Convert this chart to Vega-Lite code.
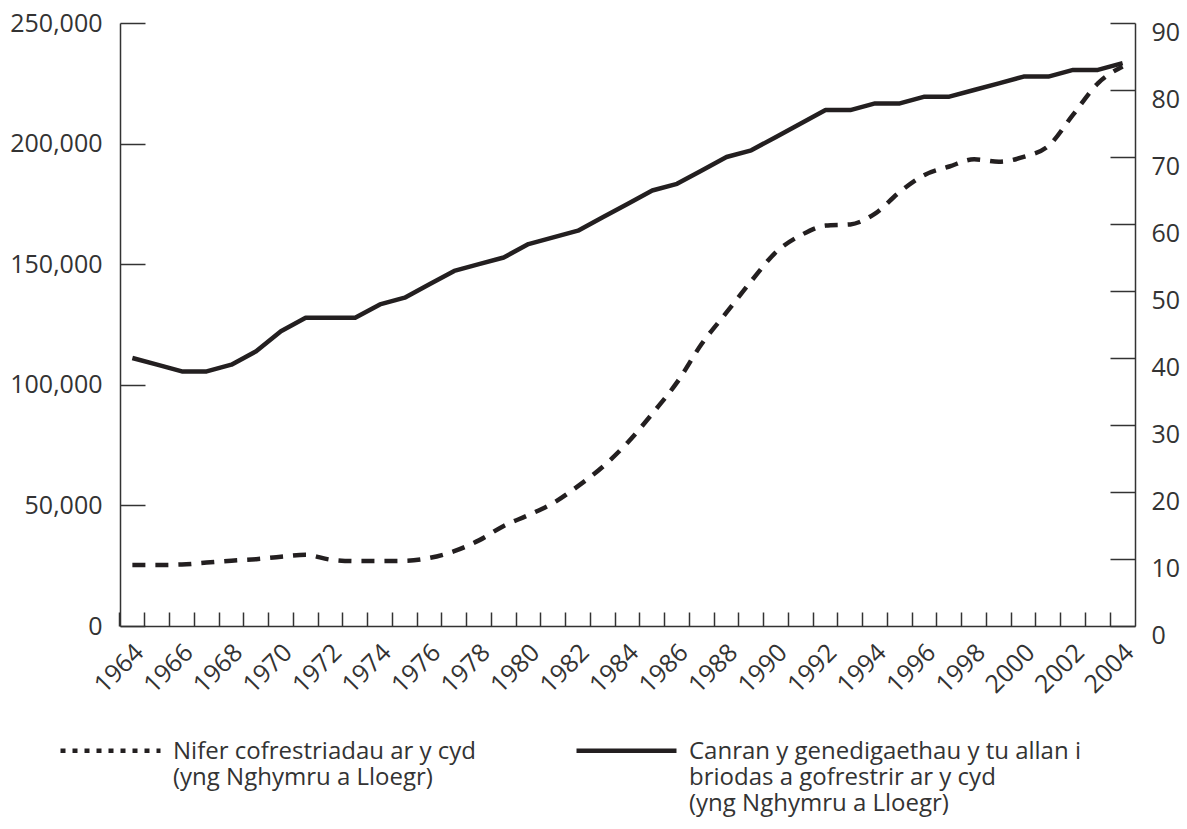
{
  "$schema": "https://vega.github.io/schema/vega-lite/v6.json",
  "width": 1015,
  "height": 603,
  "autosize": {"type": "none"},
  "padding": {"left": 120, "top": 23, "right": 52, "bottom": 203},
  "background": "white",
  "config": {
    "font": "Open Sans",
    "view": {"stroke": null},
    "axis": {
      "labelFont": "Open Sans",
      "labelFontSize": 25,
      "labelColor": "#333333",
      "domainColor": "#333333",
      "tickColor": "#333333",
      "domainWidth": 1.5,
      "tickWidth": 1.5,
      "grid": false,
      "title": null
    }
  },
  "data": {
    "values": [
      {"year": 1964, "count": 25300, "pct": 40},
      {"year": 1965, "count": 25300, "pct": 39},
      {"year": 1966, "count": 25500, "pct": 38},
      {"year": 1967, "count": 26300, "pct": 38},
      {"year": 1968, "count": 27100, "pct": 39},
      {"year": 1969, "count": 27700, "pct": 41},
      {"year": 1970, "count": 28700, "pct": 44},
      {"year": 1971, "count": 29500, "pct": 46},
      {"year": 1972, "count": 27500, "pct": 46},
      {"year": 1973, "count": 26900, "pct": 46},
      {"year": 1974, "count": 26900, "pct": 48},
      {"year": 1975, "count": 27000, "pct": 49},
      {"year": 1976, "count": 28200, "pct": 51},
      {"year": 1977, "count": 31000, "pct": 53},
      {"year": 1978, "count": 35500, "pct": 54},
      {"year": 1979, "count": 41500, "pct": 55},
      {"year": 1980, "count": 46000, "pct": 57},
      {"year": 1981, "count": 51000, "pct": 58},
      {"year": 1982, "count": 58000, "pct": 59},
      {"year": 1983, "count": 66000, "pct": 61},
      {"year": 1984, "count": 76000, "pct": 63},
      {"year": 1985, "count": 88000, "pct": 65},
      {"year": 1986, "count": 101000, "pct": 66},
      {"year": 1987, "count": 117000, "pct": 68},
      {"year": 1988, "count": 130000, "pct": 70},
      {"year": 1989, "count": 143000, "pct": 71},
      {"year": 1990, "count": 155000, "pct": 73},
      {"year": 1991, "count": 162000, "pct": 75},
      {"year": 1992, "count": 166000, "pct": 77},
      {"year": 1993, "count": 166500, "pct": 77},
      {"year": 1994, "count": 171000, "pct": 78},
      {"year": 1995, "count": 180000, "pct": 78},
      {"year": 1996, "count": 187000, "pct": 79},
      {"year": 1997, "count": 190500, "pct": 79},
      {"year": 1998, "count": 193500, "pct": 80},
      {"year": 1999, "count": 192500, "pct": 81},
      {"year": 2000, "count": 194500, "pct": 82},
      {"year": 2001, "count": 199000, "pct": 82},
      {"year": 2002, "count": 212000, "pct": 83},
      {"year": 2003, "count": 225000, "pct": 83},
      {"year": 2004, "count": 232000, "pct": 84}
    ]
  },
  "encoding": {
    "x": {
      "field": "year",
      "type": "ordinal",
      "bandPosition": 0.5,
      "scale": {"type": "band", "paddingInner": 0, "paddingOuter": 0},
      "axis": {
        "orient": "bottom",
        "bandPosition": 0,
        "tickSize": -14,
        "labelAngle": -45,
        "labelAlign": "right",
        "labelBaseline": "middle",
        "labelPadding": 36,
        "labelOffset": 7,
        "labelOverlap": false,
        "labelBound": false,
        "labelExpr": "datum.value % 2 == 0 ? datum.label : ''"
      }
    }
  },
  "layer": [
    {
      "mark": {"type": "line", "interpolate": "monotone", "strokeWidth": 4.5, "color": "#231f20", "strokeJoin": "round", "strokeDash": [13, 10]},
      "encoding": {
        "y": {
          "field": "count",
          "type": "quantitative",
          "scale": {"domain": [0, 250000], "nice": false, "zero": true},
          "axis": {
            "orient": "left",
            "values": [0, 50000, 100000, 150000, 200000, 250000],
            "format": ",.0f",
            "tickSize": -25,
            "labelPadding": 43
          }
        }
      }
    },
    {
      "mark": {"type": "line", "interpolate": "linear", "strokeWidth": 4.5, "color": "#231f20", "strokeJoin": "round"},
      "encoding": {
        "y": {
          "field": "pct",
          "type": "quantitative",
          "scale": {"domain": [0, 90], "nice": false, "zero": true},
          "axis": {
            "orient": "right",
            "values": [0, 10, 20, 30, 40, 50, 60, 70, 80, 90],
            "tickSize": -25,
            "labelPadding": 41,
            "labelOffset": 9
          }
        }
      }
    },
    {
      "transform": [{"filter": "false"}],
      "mark": {"type": "line", "strokeWidth": 4.5, "color": "#231f20"},
      "encoding": {
        "y": {
          "field": "count",
          "type": "quantitative",
          "scale": {"domain": [0, 1]},
          "axis": null
        },
        "strokeDash": {
          "datum": "A",
          "type": "nominal",
          "scale": {"domain": ["A", "B"], "range": [[5, 7], [1, 0]]},
          "legend": {
            "orient": "none",
            "legendX": -62,
            "legendY": 675,
            "direction": "horizontal",
            "columns": 2,
            "columnPadding": 90,
            "title": null,
            "symbolType": "stroke",
            "symbolSize": 10000,
            "symbolStrokeWidth": 4.5,
            "symbolStrokeColor": "#231f20",
            "labelFont": "Open Sans",
            "labelFontSize": 24,
            "labelColor": "#333333",
            "labelLimit": 800,
            "labelOffset": 10,
            "labelBaseline": "top",
            "labelExpr": "datum.value == 'A' ? ['Nifer cofrestriadau ar y cyd', '(yng Nghymru a Lloegr)', ' '] : ['Canran y genedigaethau y tu allan i', 'briodas a gofrestrir ar y cyd', '(yng Nghymru a Lloegr)']",
            "encode": {
              "labels": {"update": {"lineHeight": {"value": 26}, "dy": {"value": -11}}}
            }
          }
        }
      }
    }
  ],
  "resolve": {"scale": {"y": "independent"}}
}
